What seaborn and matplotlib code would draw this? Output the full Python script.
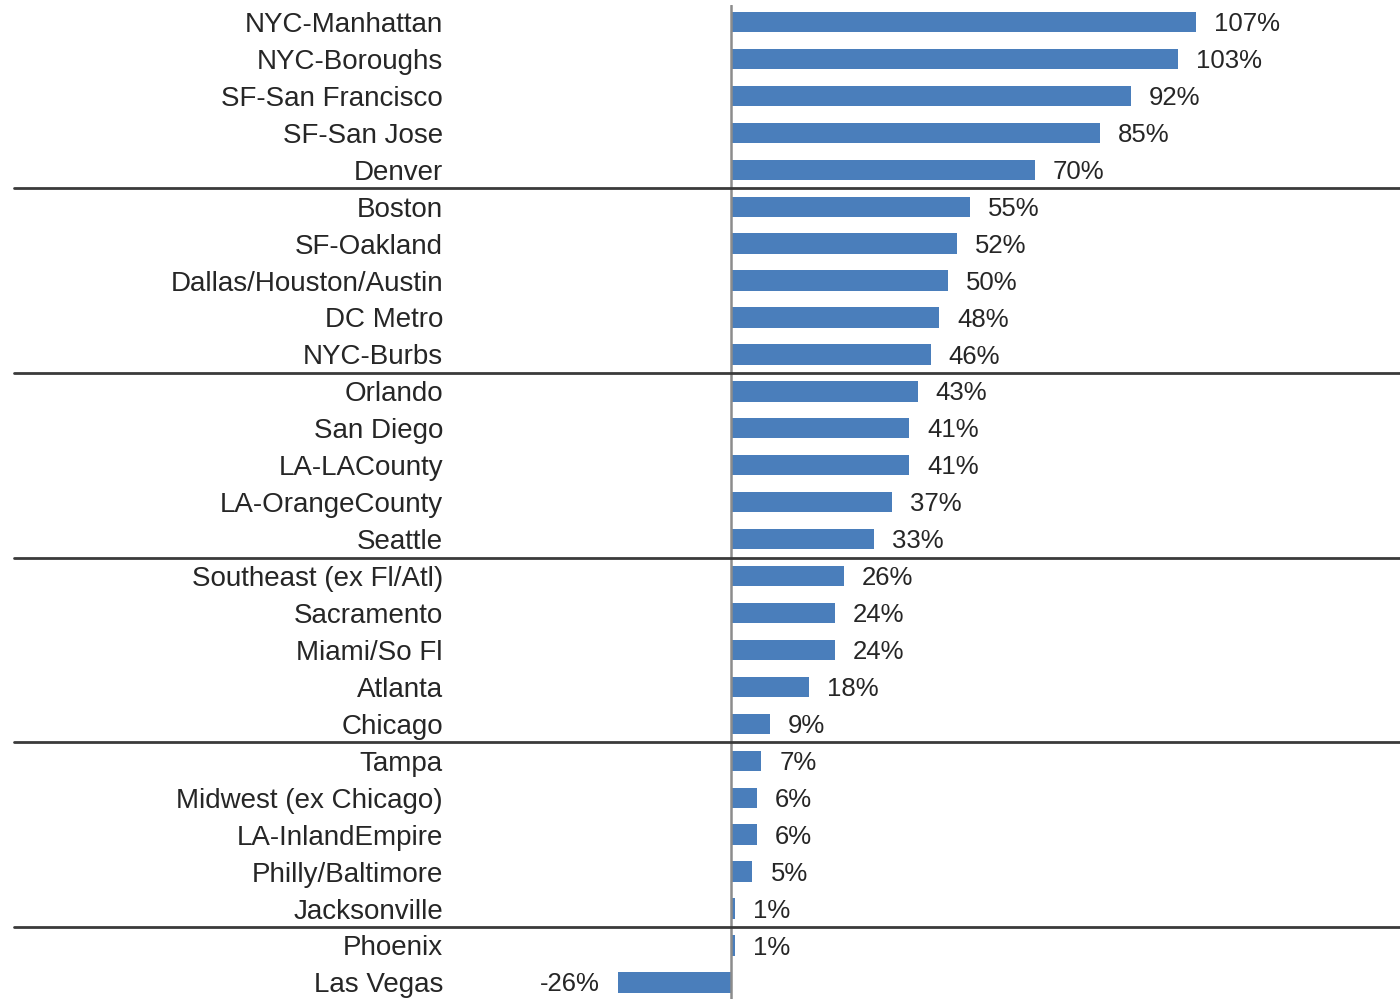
import matplotlib
matplotlib.use("Agg")
import matplotlib.pyplot as plt
import seaborn as sns
import pandas as pd

markets = ["NYC-Manhattan", "NYC-Boroughs", "SF-San Francisco", "SF-San Jose", "Denver",
           "Boston", "SF-Oakland", "Dallas/Houston/Austin", "DC Metro", "NYC-Burbs",
           "Orlando", "San Diego", "LA-LACounty", "LA-OrangeCounty", "Seattle",
           "Southeast (ex Fl/Atl)", "Sacramento", "Miami/So Fl", "Atlanta", "Chicago",
           "Tampa", "Midwest (ex Chicago)", "LA-InlandEmpire", "Philly/Baltimore", "Jacksonville",
           "Phoenix", "Las Vegas"]
values = [107, 103, 92, 85, 70,
          55, 52, 50, 48, 46,
          43, 41, 41, 37, 33,
          26, 24, 24, 18, 9,
          7, 6, 6, 5, 1,
          1, -26]
group_size = 5

df = pd.DataFrame({"market": markets, "value": values})

sns.set_theme(style="white")
plt.rcParams["font.family"] = ["Liberation Sans", "DejaVu Sans"]

W, H = 1400, 999
fig = plt.figure(figsize=(W / 100, H / 100), dpi=100)
ax_left, ax_right, ax_top, ax_bottom = 443, 1400, 5, 999
ax = fig.add_axes([ax_left / W, 1 - ax_bottom / H, (ax_right - ax_left) / W, (ax_bottom - ax_top) / H])

bar_color = "#4a7ebb"
sns.barplot(data=df, x="value", y="market", orient="h", color=bar_color,
            width=0.55, ax=ax, saturation=1, edgecolor="none")

ax.set_xlim(-66.2, 154.0)
ax.set_ylim(26.45, -0.46)

text_color = "#262626"
labels = ax.bar_label(ax.containers[0], labels=[f"{v}%" for v in values], padding=13,
                      fontsize=18.5, color=text_color)
for t in labels:
    t.set_y(-1.5)

ax.set_xlabel("")
ax.set_ylabel("")
ax.set_xticks([])
ax.tick_params(axis="y", length=0, pad=0, labelsize=20, labelcolor=text_color)
for s in ax.spines.values():
    s.set_visible(False)

ax.axvline(0, color="#8c8c8c", lw=1.8, zorder=3)

frac_left = (14 - ax_left) / (ax_right - ax_left)
for k in range(group_size, len(markets), group_size):
    ax.plot([frac_left, 1.0], [k - 0.5, k - 0.5], transform=ax.get_yaxis_transform(),
            color="#3a3a3a", lw=2.0, clip_on=False, zorder=4)

fig.savefig("out.png", dpi=100)
